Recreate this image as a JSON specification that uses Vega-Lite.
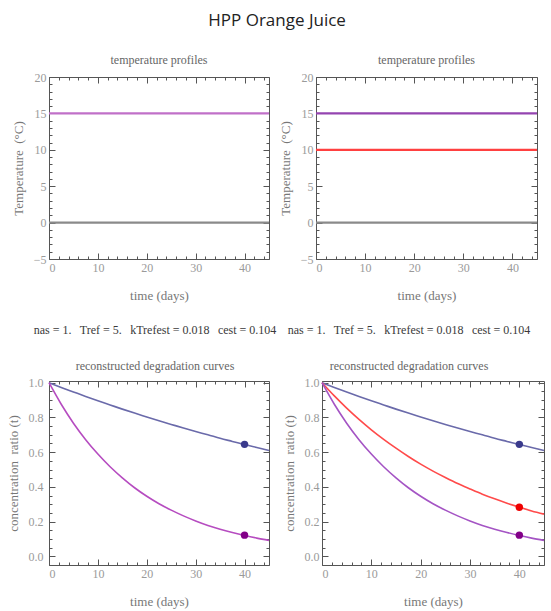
{
  "$schema": "https://vega.github.io/schema/vega-lite/v6.json",
  "padding": {"left": 6, "top": 11, "right": 4, "bottom": 2},
  "title": {"text": "HPP Orange Juice", "font": "Open Sans", "fontSize": 17, "fontWeight": "normal", "color": "#222", "anchor": "middle", "offset": 24},
  "datasets": {
    "tl": [
      {"t": 0, "v": 0, "s": "zero"}, {"t": 45, "v": 0, "s": "zero"},
      {"t": 0, "v": 15, "s": "p15L"}, {"t": 45, "v": 15, "s": "p15L"}
    ],
    "tr": [
      {"t": 0, "v": 0, "s": "zero"}, {"t": 45, "v": 0, "s": "zero"},
      {"t": 0, "v": 15, "s": "p15R"}, {"t": 45, "v": 15, "s": "p15R"},
      {"t": 0, "v": 10, "s": "r10"}, {"t": 45, "v": 10, "s": "r10"}
    ],
    "bl": [
      {"t": 0, "v": 1, "s": "blue"}, {"t": 2.5, "v": 0.973, "s": "blue"}, {"t": 5, "v": 0.947, "s": "blue"}, {"t": 7.5, "v": 0.921, "s": "blue"}, {"t": 10, "v": 0.896, "s": "blue"}, {"t": 12.5, "v": 0.872, "s": "blue"}, {"t": 15, "v": 0.848, "s": "blue"}, {"t": 17.5, "v": 0.825, "s": "blue"}, {"t": 20, "v": 0.803, "s": "blue"}, {"t": 22.5, "v": 0.781, "s": "blue"}, {"t": 25, "v": 0.760, "s": "blue"}, {"t": 27.5, "v": 0.739, "s": "blue"}, {"t": 30, "v": 0.719, "s": "blue"}, {"t": 32.5, "v": 0.700, "s": "blue"}, {"t": 35, "v": 0.680, "s": "blue"}, {"t": 37.5, "v": 0.662, "s": "blue"}, {"t": 40, "v": 0.644, "s": "blue"}, {"t": 42.5, "v": 0.627, "s": "blue"}, {"t": 45, "v": 0.610, "s": "blue"},
      {"t": 0, "v": 1, "s": "magL"}, {"t": 2.5, "v": 0.876, "s": "magL"}, {"t": 5, "v": 0.767, "s": "magL"}, {"t": 7.5, "v": 0.672, "s": "magL"}, {"t": 10, "v": 0.589, "s": "magL"}, {"t": 12.5, "v": 0.516, "s": "magL"}, {"t": 15, "v": 0.452, "s": "magL"}, {"t": 17.5, "v": 0.395, "s": "magL"}, {"t": 20, "v": 0.346, "s": "magL"}, {"t": 22.5, "v": 0.303, "s": "magL"}, {"t": 25, "v": 0.266, "s": "magL"}, {"t": 27.5, "v": 0.233, "s": "magL"}, {"t": 30, "v": 0.204, "s": "magL"}, {"t": 32.5, "v": 0.178, "s": "magL"}, {"t": 35, "v": 0.156, "s": "magL"}, {"t": 37.5, "v": 0.137, "s": "magL"}, {"t": 40, "v": 0.120, "s": "magL"}, {"t": 42.5, "v": 0.105, "s": "magL"}, {"t": 45, "v": 0.092, "s": "magL"}
    ],
    "br": [
      {"t": 0, "v": 1, "s": "blue"}, {"t": 2.5, "v": 0.973, "s": "blue"}, {"t": 5, "v": 0.947, "s": "blue"}, {"t": 7.5, "v": 0.921, "s": "blue"}, {"t": 10, "v": 0.896, "s": "blue"}, {"t": 12.5, "v": 0.872, "s": "blue"}, {"t": 15, "v": 0.848, "s": "blue"}, {"t": 17.5, "v": 0.825, "s": "blue"}, {"t": 20, "v": 0.803, "s": "blue"}, {"t": 22.5, "v": 0.781, "s": "blue"}, {"t": 25, "v": 0.760, "s": "blue"}, {"t": 27.5, "v": 0.739, "s": "blue"}, {"t": 30, "v": 0.719, "s": "blue"}, {"t": 32.5, "v": 0.700, "s": "blue"}, {"t": 35, "v": 0.680, "s": "blue"}, {"t": 37.5, "v": 0.662, "s": "blue"}, {"t": 40, "v": 0.644, "s": "blue"}, {"t": 42.5, "v": 0.627, "s": "blue"}, {"t": 45, "v": 0.610, "s": "blue"},
      {"t": 0, "v": 1, "s": "red"}, {"t": 2.5, "v": 0.924, "s": "red"}, {"t": 5, "v": 0.854, "s": "red"}, {"t": 7.5, "v": 0.789, "s": "red"}, {"t": 10, "v": 0.729, "s": "red"}, {"t": 12.5, "v": 0.674, "s": "red"}, {"t": 15, "v": 0.623, "s": "red"}, {"t": 17.5, "v": 0.575, "s": "red"}, {"t": 20, "v": 0.531, "s": "red"}, {"t": 22.5, "v": 0.491, "s": "red"}, {"t": 25, "v": 0.454, "s": "red"}, {"t": 27.5, "v": 0.419, "s": "red"}, {"t": 30, "v": 0.388, "s": "red"}, {"t": 32.5, "v": 0.358, "s": "red"}, {"t": 35, "v": 0.331, "s": "red"}, {"t": 37.5, "v": 0.306, "s": "red"}, {"t": 40, "v": 0.283, "s": "red"}, {"t": 42.5, "v": 0.261, "s": "red"}, {"t": 45, "v": 0.243, "s": "red"},
      {"t": 0, "v": 1, "s": "magR"}, {"t": 2.5, "v": 0.876, "s": "magR"}, {"t": 5, "v": 0.767, "s": "magR"}, {"t": 7.5, "v": 0.672, "s": "magR"}, {"t": 10, "v": 0.589, "s": "magR"}, {"t": 12.5, "v": 0.516, "s": "magR"}, {"t": 15, "v": 0.452, "s": "magR"}, {"t": 17.5, "v": 0.395, "s": "magR"}, {"t": 20, "v": 0.346, "s": "magR"}, {"t": 22.5, "v": 0.303, "s": "magR"}, {"t": 25, "v": 0.266, "s": "magR"}, {"t": 27.5, "v": 0.233, "s": "magR"}, {"t": 30, "v": 0.204, "s": "magR"}, {"t": 32.5, "v": 0.178, "s": "magR"}, {"t": 35, "v": 0.156, "s": "magR"}, {"t": 37.5, "v": 0.137, "s": "magR"}, {"t": 40, "v": 0.120, "s": "magR"}, {"t": 42.5, "v": 0.105, "s": "magR"}, {"t": 45, "v": 0.092, "s": "magR"}
    ],
    "dl": [
      {"t": 40, "v": 0.645, "s": "blueDot"}, {"t": 40, "v": 0.122, "s": "magDot"}
    ],
    "dr": [
      {"t": 40, "v": 0.645, "s": "blueDot"}, {"t": 40, "v": 0.283, "s": "redDot"}, {"t": 40, "v": 0.122, "s": "magDot"}
    ]
  },
  "vconcat": [
    {
      "spacing": 4,
      "hconcat": [
        {
          "width": 220, "height": 182,
          "title": "temperature profiles",
          "data": {"name": "tl"},
          "layer": [
            {
              "mark": {"type": "line", "strokeWidth": 2.2},
              "encoding": {
                "x": {"field": "t", "type": "quantitative", "scale": {"domain": [0, 45], "nice": false, "zero": false},
                  "axis": {"orient": "bottom", "title": "time (days)", "values": [0,2,4,6,8,10,12,14,16,18,20,22,24,26,28,30,32,34,36,38,40,42,44], "labelExpr": "datum.value % 10 == 0 ? datum.label : ''", "tickSize": {"condition": {"test": "datum.value % 10 == 0", "value": -6}, "value": -3}}},
                "y": {"field": "v", "type": "quantitative", "scale": {"domain": [-5, 20], "nice": false, "zero": false},
                  "axis": {"orient": "left", "title": "Temperature\u00a0\u00a0(°C)", "values": [-5,-4,-3,-2,-1,0,1,2,3,4,5,6,7,8,9,10,11,12,13,14,15,16,17,18,19,20], "labelExpr": "datum.value % 5 == 0 ? datum.label : ''", "tickSize": {"condition": {"test": "datum.value % 5 == 0", "value": -6}, "value": -3}}},
                "color": {"field": "s", "type": "nominal", "legend": null,
                  "scale": {"domain": ["zero","p15L","p15R","r10","blue","magL","magR","red","blueDot","magDot","redDot"], "range": ["#8a8a8a","#c070c8","#9444b0","#ff4040","#6a6aaa","#b64cc0","#a454c4","#ff4a4a","#3a3a8c","#820088","#ee0000"]}}
              }
            },
            {
              "mark": {"type": "point", "opacity": 0},
              "encoding": {
                "x": {"field": "t", "type": "quantitative", "axis": {"orient": "top", "title": null, "labels": false, "values": [0,2,4,6,8,10,12,14,16,18,20,22,24,26,28,30,32,34,36,38,40,42,44], "tickSize": {"condition": {"test": "datum.value % 10 == 0", "value": -6}, "value": -3}}},
                "y": {"field": "v", "type": "quantitative", "axis": {"orient": "right", "title": null, "labels": false, "values": [-5,-4,-3,-2,-1,0,1,2,3,4,5,6,7,8,9,10,11,12,13,14,15,16,17,18,19,20], "tickSize": {"condition": {"test": "datum.value % 5 == 0", "value": -6}, "value": -3}}}
              }
            }
          ],
          "resolve": {"axis": {"x": "independent", "y": "independent"}}
        },
        {
          "width": 221, "height": 182,
          "title": "temperature profiles",
          "data": {"name": "tr"},
          "layer": [
            {
              "mark": {"type": "line", "strokeWidth": 2.2},
              "encoding": {
                "x": {"field": "t", "type": "quantitative", "scale": {"domain": [0, 45], "nice": false, "zero": false},
                  "axis": {"orient": "bottom", "title": "time (days)", "values": [0,2,4,6,8,10,12,14,16,18,20,22,24,26,28,30,32,34,36,38,40,42,44], "labelExpr": "datum.value % 10 == 0 ? datum.label : ''", "tickSize": {"condition": {"test": "datum.value % 10 == 0", "value": -6}, "value": -3}}},
                "y": {"field": "v", "type": "quantitative", "scale": {"domain": [-5, 20], "nice": false, "zero": false},
                  "axis": {"orient": "left", "title": "Temperature\u00a0\u00a0(°C)", "values": [-5,-4,-3,-2,-1,0,1,2,3,4,5,6,7,8,9,10,11,12,13,14,15,16,17,18,19,20], "labelExpr": "datum.value % 5 == 0 ? datum.label : ''", "tickSize": {"condition": {"test": "datum.value % 5 == 0", "value": -6}, "value": -3}}},
                "color": {"field": "s", "type": "nominal", "legend": null,
                  "scale": {"domain": ["zero","p15L","p15R","r10","blue","magL","magR","red","blueDot","magDot","redDot"], "range": ["#8a8a8a","#c070c8","#9444b0","#ff4040","#6a6aaa","#b64cc0","#a454c4","#ff4a4a","#3a3a8c","#820088","#ee0000"]}}
              }
            },
            {
              "mark": {"type": "point", "opacity": 0},
              "encoding": {
                "x": {"field": "t", "type": "quantitative", "axis": {"orient": "top", "title": null, "labels": false, "values": [0,2,4,6,8,10,12,14,16,18,20,22,24,26,28,30,32,34,36,38,40,42,44], "tickSize": {"condition": {"test": "datum.value % 10 == 0", "value": -6}, "value": -3}}},
                "y": {"field": "v", "type": "quantitative", "axis": {"orient": "right", "title": null, "labels": false, "values": [-5,-4,-3,-2,-1,0,1,2,3,4,5,6,7,8,9,10,11,12,13,14,15,16,17,18,19,20], "tickSize": {"condition": {"test": "datum.value % 5 == 0", "value": -6}, "value": -3}}}
              }
            }
          ],
          "resolve": {"axis": {"x": "independent", "y": "independent"}}
        }
      ]
    },
    {
      "spacing": 5,
      "hconcat": [
        {
          "width": 220, "height": 184,
          "title": {"text": "nas = 1.\u00a0\u00a0\u2009Tref = 5.\u00a0\u00a0\u2009kTrefest = 0.018\u00a0\u00a0\u2009cest = 0.104", "subtitle": "reconstructed degradation curves", "frame": "group", "dx": -4, "fontSize": 12, "color": "#3a3a3a", "subtitleFont": "Liberation Serif", "subtitleFontSize": 12, "subtitleColor": "#666", "subtitlePadding": 24},
          "layer": [
            {
              "data": {"name": "bl"},
              "mark": {"type": "line", "strokeWidth": 1.6, "interpolate": "monotone"},
              "encoding": {
                "x": {"field": "t", "type": "quantitative", "scale": {"domain": [0, 45], "nice": false, "zero": false},
                  "axis": {"orient": "bottom", "title": "time (days)", "values": [0,2,4,6,8,10,12,14,16,18,20,22,24,26,28,30,32,34,36,38,40,42,44], "labelExpr": "datum.value % 10 == 0 ? datum.label : ''", "tickSize": {"condition": {"test": "datum.value % 10 == 0", "value": -6}, "value": -3}}},
                "y": {"field": "v", "type": "quantitative", "scale": {"domain": [-0.05, 1.01], "nice": false, "zero": false},
                  "axis": {"orient": "left", "title": "concentration\u00a0\u00a0ratio (t)", "labelPadding": 12, "values": [-0.05,0,0.05,0.1,0.15,0.2,0.25,0.3,0.35,0.4,0.45,0.5,0.55,0.6,0.65,0.7,0.75,0.8,0.85,0.9,0.95,1], "labelExpr": "abs(datum.value*5 - round(datum.value*5)) < 0.001 ? format(datum.value, '.1f') : ''", "tickSize": {"condition": {"test": "abs(datum.value*5 - round(datum.value*5)) < 0.001", "value": -6}, "value": -3}}},
                "color": {"field": "s", "type": "nominal", "legend": null,
                  "scale": {"domain": ["zero","p15L","p15R","r10","blue","magL","magR","red","blueDot","magDot","redDot"], "range": ["#8a8a8a","#c070c8","#9444b0","#ff4040","#6a6aaa","#b64cc0","#a454c4","#ff4a4a","#3a3a8c","#820088","#ee0000"]}}
              }
            },
            {
              "data": {"name": "dl"},
              "mark": {"type": "circle", "size": 55, "opacity": 1},
              "encoding": {
                "x": {"field": "t", "type": "quantitative", "axis": null},
                "y": {"field": "v", "type": "quantitative", "axis": null},
                "color": {"field": "s", "type": "nominal", "legend": null}
              }
            },
            {
              "data": {"name": "bl"},
              "mark": {"type": "point", "opacity": 0},
              "encoding": {
                "x": {"field": "t", "type": "quantitative", "axis": {"orient": "top", "title": null, "labels": false, "values": [0,2,4,6,8,10,12,14,16,18,20,22,24,26,28,30,32,34,36,38,40,42,44], "tickSize": {"condition": {"test": "datum.value % 10 == 0", "value": -6}, "value": -3}}},
                "y": {"field": "v", "type": "quantitative", "axis": {"orient": "right", "title": null, "labels": false, "values": [-0.05,0,0.05,0.1,0.15,0.2,0.25,0.3,0.35,0.4,0.45,0.5,0.55,0.6,0.65,0.7,0.75,0.8,0.85,0.9,0.95,1], "tickSize": {"condition": {"test": "abs(datum.value*5 - round(datum.value*5)) < 0.001", "value": -6}, "value": -3}}}
              }
            }
          ],
          "resolve": {"axis": {"x": "independent", "y": "independent"}}
        },
        {
          "width": 222, "height": 184,
          "title": {"text": "nas = 1.\u00a0\u00a0\u2009Tref = 5.\u00a0\u00a0\u2009kTrefest = 0.018\u00a0\u00a0\u2009cest = 0.104", "subtitle": "reconstructed degradation curves", "frame": "group", "dx": -24, "fontSize": 12, "color": "#3a3a3a", "subtitleFont": "Liberation Serif", "subtitleFontSize": 12, "subtitleColor": "#666", "subtitlePadding": 24},
          "layer": [
            {
              "data": {"name": "br"},
              "mark": {"type": "line", "strokeWidth": 1.6, "interpolate": "monotone"},
              "encoding": {
                "x": {"field": "t", "type": "quantitative", "scale": {"domain": [0, 45], "nice": false, "zero": false},
                  "axis": {"orient": "bottom", "title": "time (days)", "values": [0,2,4,6,8,10,12,14,16,18,20,22,24,26,28,30,32,34,36,38,40,42,44], "labelExpr": "datum.value % 10 == 0 ? datum.label : ''", "tickSize": {"condition": {"test": "datum.value % 10 == 0", "value": -6}, "value": -3}}},
                "y": {"field": "v", "type": "quantitative", "scale": {"domain": [-0.05, 1.01], "nice": false, "zero": false},
                  "axis": {"orient": "left", "title": "concentration\u00a0\u00a0ratio (t)", "labelPadding": 9, "values": [-0.05,0,0.05,0.1,0.15,0.2,0.25,0.3,0.35,0.4,0.45,0.5,0.55,0.6,0.65,0.7,0.75,0.8,0.85,0.9,0.95,1], "labelExpr": "abs(datum.value*5 - round(datum.value*5)) < 0.001 ? format(datum.value, '.1f') : ''", "tickSize": {"condition": {"test": "abs(datum.value*5 - round(datum.value*5)) < 0.001", "value": -6}, "value": -3}}},
                "color": {"field": "s", "type": "nominal", "legend": null,
                  "scale": {"domain": ["zero","p15L","p15R","r10","blue","magL","magR","red","blueDot","magDot","redDot"], "range": ["#8a8a8a","#c070c8","#9444b0","#ff4040","#6a6aaa","#b64cc0","#a454c4","#ff4a4a","#3a3a8c","#820088","#ee0000"]}}
              }
            },
            {
              "data": {"name": "dr"},
              "mark": {"type": "circle", "size": 55, "opacity": 1},
              "encoding": {
                "x": {"field": "t", "type": "quantitative", "axis": null},
                "y": {"field": "v", "type": "quantitative", "axis": null},
                "color": {"field": "s", "type": "nominal", "legend": null}
              }
            },
            {
              "data": {"name": "br"},
              "mark": {"type": "point", "opacity": 0},
              "encoding": {
                "x": {"field": "t", "type": "quantitative", "axis": {"orient": "top", "title": null, "labels": false, "values": [0,2,4,6,8,10,12,14,16,18,20,22,24,26,28,30,32,34,36,38,40,42,44], "tickSize": {"condition": {"test": "datum.value % 10 == 0", "value": -6}, "value": -3}}},
                "y": {"field": "v", "type": "quantitative", "axis": {"orient": "right", "title": null, "labels": false, "values": [-0.05,0,0.05,0.1,0.15,0.2,0.25,0.3,0.35,0.4,0.45,0.5,0.55,0.6,0.65,0.7,0.75,0.8,0.85,0.9,0.95,1], "tickSize": {"condition": {"test": "abs(datum.value*5 - round(datum.value*5)) < 0.001", "value": -6}, "value": -3}}}
              }
            }
          ],
          "resolve": {"axis": {"x": "independent", "y": "independent"}}
        }
      ]
    }
  ],
  "spacing": 20,
  "config": {
    "view": {"stroke": "#555", "strokeWidth": 1},
    "axis": {"grid": false, "domain": false, "labelFont": "Liberation Serif", "labelFontSize": 12, "labelColor": "#9a9a9a", "titleFont": "Liberation Serif", "titleFontSize": 13, "titleFontWeight": "normal", "titleColor": "#777", "tickColor": "#555", "labelPadding": 9, "titlePadding": 8},
    "axisX": {"titlePadding": 16},
    "title": {"font": "Liberation Serif", "fontSize": 12, "fontWeight": "normal", "color": "#666", "offset": 4}
  }
}
